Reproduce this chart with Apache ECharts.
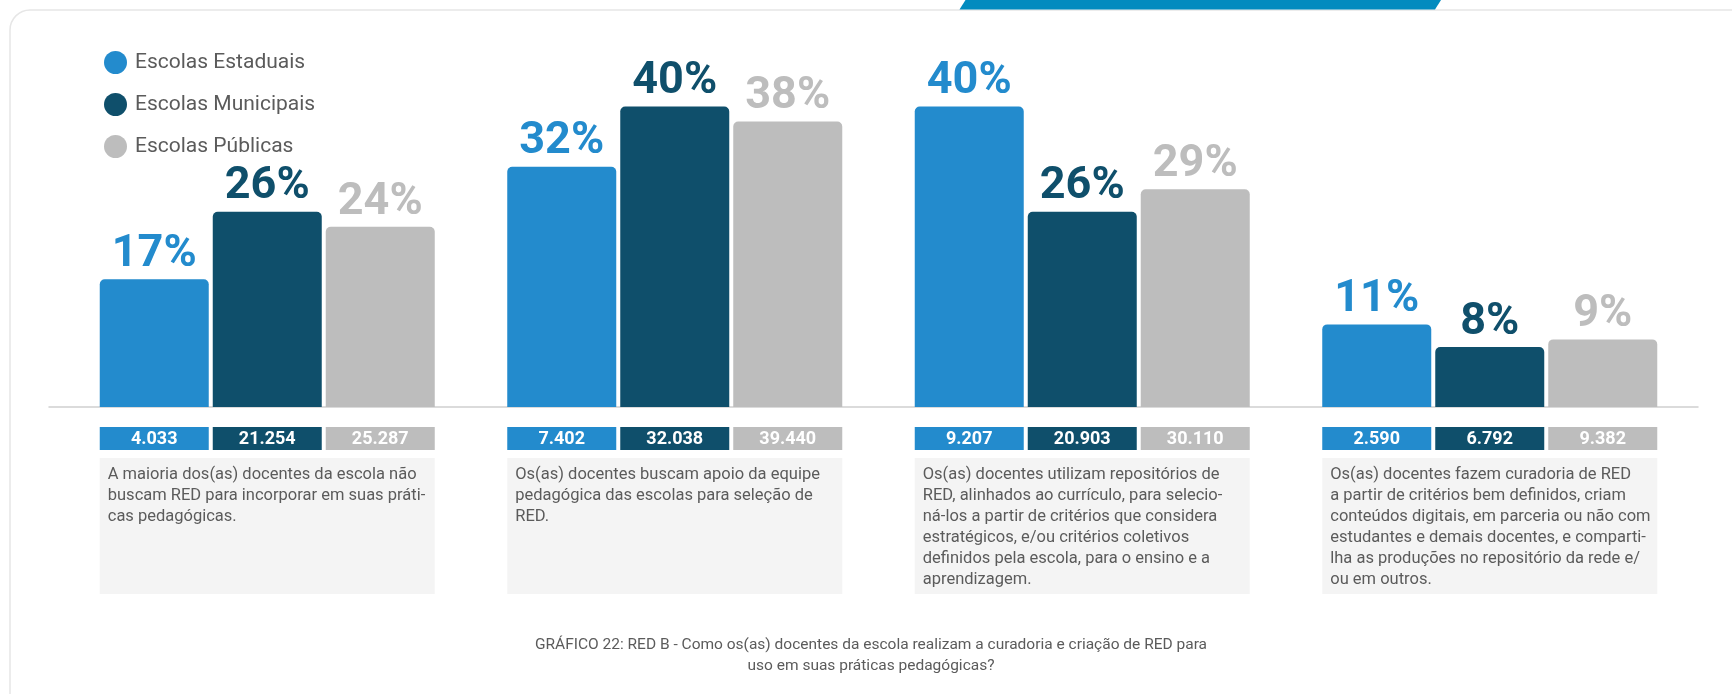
<!DOCTYPE html>
<html lang="pt-BR">
<head>
<meta charset="utf-8">
<title>GRÁFICO 22: RED B</title>
<script src="https://cdn.jsdelivr.net/npm/echarts@6/dist/echarts.min.js"></script>
<style>
  html, body { margin: 0; padding: 0; background: #ffffff; }
  #chart { width: 1732px; height: 694px; }
</style>
</head>
<body>
<div id="chart"></div>
<script>
// Series names
const seriesNames = ['Escolas Estaduais', 'Escolas Municipais', 'Escolas Públicas'];

// Percentage of schools per statement
const estaduais = [17, 32, 40, 11];
const municipais = [26, 40, 26, 8];
const publicas = [24, 38, 29, 9];

// Absolute number of schools per statement
const estaduaisN = [4033, 7402, 9207, 2590];
const municipaisN = [21254, 32038, 20903, 6792];
const publicasN = [25287, 39440, 30110, 9382];

// Statement shown under each group of bars
const afirmacoes = [
  'A maioria dos(as) docentes da escola não\nbuscam RED para incorporar em suas práti-\ncas pedagógicas.',
  'Os(as) docentes buscam apoio da equipe\npedagógica das escolas para seleção de\nRED.',
  'Os(as) docentes utilizam repositórios de\nRED, alinhados ao currículo, para selecio-\nná-los a partir de critérios que considera\nestratégicos, e/ou critérios coletivos\ndefinidos pela escola, para o ensino e a\naprendizagem.',
  'Os(as) docentes fazem curadoria de RED\na partir de critérios bem definidos, criam\nconteúdos digitais, em parceria ou não com\nestudantes e demais docentes, e comparti-\nlha as produções no repositório da rede e/\nou em outros.'
];

const legenda = 'GRÁFICO 22: RED B - Como os(as) docentes da escola realizam a curadoria e criação de RED para\nuso em suas práticas pedagógicas?';

const cores = ['#238bcd', '#0f4f6b', '#bdbdbd'];
const FONT = 'Roboto, "Noto Sans", sans-serif';
const BAR_W = 109;
const BAR_GAP = 4;

const chart = echarts.init(document.getElementById('chart'), null, { renderer: 'canvas' });

const percentuais = [estaduais, municipais, publicas];
const contagens = [estaduaisN, municipaisN, publicasN];

function milhar(v) {
  return String(v).replace(/\B(?=(\d{3})+(?!\d))/g, '.');
}

// Bars with the percentage on top
const barSeries = seriesNames.map((nome, k) => ({
  name: nome,
  type: 'bar',
  xAxisIndex: 0,
  yAxisIndex: 0,
  barWidth: BAR_W,
  barGap: (BAR_GAP / BAR_W * 100).toFixed(2) + '%',
  data: percentuais[k],
  itemStyle: { color: cores[k], borderRadius: [5, 5, 0, 0] },
  label: {
    show: true,
    position: 'top',
    distance: 2,
    formatter: '{c}%',
    color: cores[k],
    fontFamily: FONT,
    fontWeight: 'bold',
    fontSize: 45,
    lineHeight: 45
  },
  emphasis: { disabled: true },
  z: 3
}));

// Coloured boxes with the number of schools under each bar
const countSeries = seriesNames.map((nome, k) => ({
  name: nome + ' (n)',
  type: 'custom',
  xAxisIndex: 0,
  yAxisIndex: 0,
  clip: false,
  silent: true,
  encode: { x: 0, y: 1 },
  data: contagens[k].map((v, i) => [i, 0, v]),
  renderItem: function (params, api) {
    const base = api.coord([api.value(0), 0]);
    const cx = base[0] + (k - 1) * (BAR_W + BAR_GAP);
    const top = base[1] + 20;
    const h = 23;
    return {
      type: 'group',
      children: [
        {
          type: 'rect',
          shape: { x: cx - BAR_W / 2, y: top, width: BAR_W, height: h },
          style: { fill: cores[k] }
        },
        {
          type: 'text',
          style: {
            x: cx,
            y: top + h / 2 + 1,
            text: milhar(api.value(2)),
            fill: '#ffffff',
            font: 'bold 18px ' + FONT,
            align: 'center',
            verticalAlign: 'middle'
          }
        }
      ]
    };
  }
}));

// Grey boxes holding each statement
const textSeries = {
  name: 'afirmacoes',
  type: 'custom',
  xAxisIndex: 0,
  yAxisIndex: 0,
  clip: false,
  silent: true,
  encode: { x: 0, y: 1 },
  data: afirmacoes.map((_, i) => [i, 0]),
  renderItem: function (params, api) {
    const base = api.coord([api.value(0), 0]);
    const w = BAR_W * 3 + BAR_GAP * 2;
    const left = base[0] - w / 2;
    const top = base[1] + 51;
    return {
      type: 'group',
      children: [
        {
          type: 'rect',
          shape: { x: left, y: top, width: w, height: 136 },
          style: { fill: '#f4f4f4' }
        },
        {
          type: 'text',
          style: {
            x: left + 8,
            y: top + 6,
            text: afirmacoes[params.dataIndex],
            fill: '#5b5b5b',
            fontFamily: FONT,
            fontSize: 16.5,
            lineHeight: 21,
            align: 'left',
            verticalAlign: 'top'
          }
        }
      ]
    };
  }
};

chart.setOption({
  animation: false,
  backgroundColor: '#ffffff',
  textStyle: { fontFamily: FONT },
  graphic: [
    // card outline
    {
      type: 'rect',
      z: -10,
      shape: { x: 10, y: 10, width: 1780, height: 740, r: 20 },
      style: { fill: '#ffffff', stroke: '#e6e6e6', lineWidth: 1.5 }
    },
    // blue tab on the card's top edge
    {
      type: 'polygon',
      z: -5,
      shape: { points: [[959.5, 9.5], [965.5, 0], [1441, 0], [1435, 9.5]] },
      style: { fill: '#028bbf' }
    },
    // caption
    {
      type: 'text',
      x: 871,
      y: 635,
      style: {
        text: legenda,
        fill: '#5b5b5b',
        fontFamily: FONT,
        fontSize: 15.5,
        lineHeight: 21,
        align: 'center',
        verticalAlign: 'top'
      }
    }
  ],
  legend: {
    data: seriesNames,
    orient: 'vertical',
    left: 99,
    top: 46,
    icon: 'circle',
    itemWidth: 23,
    itemHeight: 23,
    itemGap: 19,
    selectedMode: false,
    textStyle: {
      color: '#5b5b5b',
      fontFamily: FONT,
      fontSize: 21,
      padding: [0, 0, 0, 3]
    }
  },
  grid: [
    { left: 63.5, right: 38.5, top: 31.5, bottom: 287 },
    { left: 49, right: 34, top: 31.5, bottom: 287 }
  ],
  xAxis: [
    {
      type: 'category',
      gridIndex: 0,
      data: afirmacoes.map((_, i) => 'G' + (i + 1)),
      axisLine: { show: false },
      axisTick: { show: false },
      axisLabel: { show: false },
      splitLine: { show: false }
    },
    {
      type: 'value',
      gridIndex: 1,
      min: 0,
      max: 1,
      axisLine: { show: true, lineStyle: { color: '#cfcfcf', width: 1.5 } },
      axisTick: { show: false },
      axisLabel: { show: false },
      splitLine: { show: false }
    }
  ],
  yAxis: [
    { type: 'value', gridIndex: 0, min: 0, max: 50, show: false },
    { type: 'value', gridIndex: 1, min: 0, max: 1, show: false }
  ],
  series: [...barSeries, ...countSeries, textSeries]
});
</script>
</body>
</html>
